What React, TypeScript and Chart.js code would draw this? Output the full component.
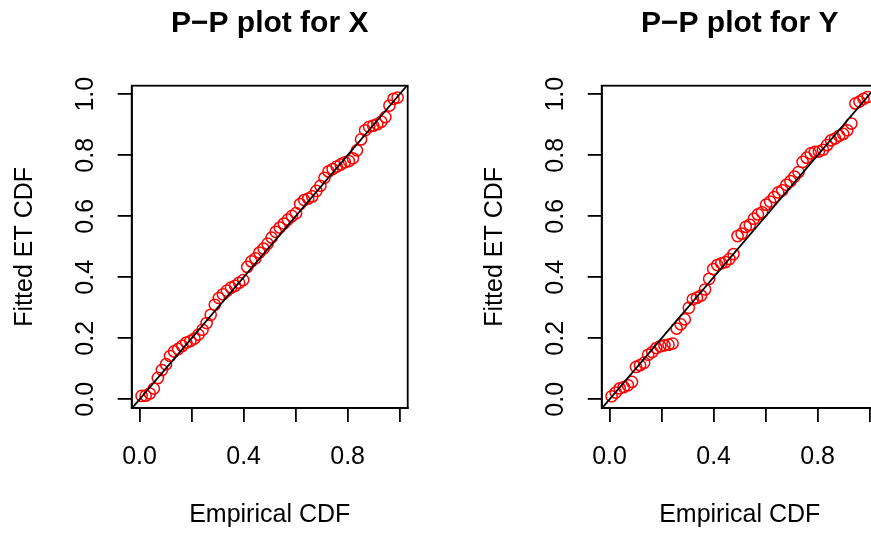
import { useEffect, useRef } from "react";
import { Chart, registerables } from "chart.js";

Chart.register(...registerables);

// Empirical CDF positions (x) shared by both panels
const EMPIRICAL_CDF = [
  0.0078, 0.0234, 0.0391, 0.0547, 0.0703, 0.0859, 0.1016, 0.1172, 0.1328, 0.1484,
  0.1641, 0.1797, 0.1953, 0.2109, 0.2266, 0.2422, 0.2578, 0.2734, 0.2891, 0.3047,
  0.3203, 0.3359, 0.3516, 0.3672, 0.3828, 0.3984, 0.4141, 0.4297, 0.4453, 0.4609,
  0.4766, 0.4922, 0.5078, 0.5234, 0.5391, 0.5547, 0.5703, 0.5859, 0.6016, 0.6172,
  0.6328, 0.6484, 0.6641, 0.6797, 0.6953, 0.7109, 0.7266, 0.7422, 0.7578, 0.7734,
  0.7891, 0.8047, 0.8203, 0.8359, 0.8516, 0.8672, 0.8828, 0.8984, 0.9141, 0.9297,
  0.9453, 0.9609, 0.9766, 0.9922,
];

// Fitted ET CDF for X
const FITTED_X = [
  0.011, 0.012, 0.019, 0.035, 0.070, 0.096, 0.115, 0.142, 0.157, 0.165,
  0.175, 0.186, 0.191, 0.199, 0.212, 0.228, 0.250, 0.277, 0.310, 0.332,
  0.344, 0.356, 0.366, 0.372, 0.382, 0.391, 0.434, 0.452, 0.462, 0.481,
  0.494, 0.510, 0.530, 0.549, 0.563, 0.576, 0.589, 0.601, 0.610, 0.640,
  0.653, 0.658, 0.665, 0.683, 0.700, 0.726, 0.747, 0.755, 0.763, 0.770,
  0.777, 0.781, 0.790, 0.816, 0.852, 0.882, 0.893, 0.897, 0.902, 0.910,
  0.925, 0.963, 0.985, 0.989,
];

// Fitted ET CDF for Y
const FITTED_Y = [
  0.010, 0.022, 0.036, 0.040, 0.046, 0.057, 0.106, 0.112, 0.120, 0.146,
  0.155, 0.168, 0.174, 0.177, 0.179, 0.183, 0.232, 0.246, 0.262, 0.300,
  0.328, 0.333, 0.340, 0.360, 0.395, 0.427, 0.440, 0.446, 0.450, 0.460,
  0.476, 0.535, 0.543, 0.565, 0.572, 0.592, 0.606, 0.613, 0.638, 0.648,
  0.663, 0.678, 0.685, 0.703, 0.715, 0.730, 0.745, 0.778, 0.792, 0.806,
  0.811, 0.812, 0.818, 0.833, 0.849, 0.855, 0.864, 0.870, 0.882, 0.904,
  0.970, 0.976, 0.985, 0.991,
];

const TICK_VALUES = [0, 0.2, 0.4, 0.6, 0.8, 1.0];
const X_TICK_LABELS = ["0.0", "", "0.4", "", "0.8", ""];
const Y_TICK_LABELS = ["0.0", "0.2", "0.4", "0.6", "0.8", "1.0"];
const REF_LINE = [-0.5, 1.5];

const X_LIMITS = [-0.0303, 1.031];
const Y_LIMITS = [-0.0285, 1.028];

const FONT = "'Liberation Sans', Arial, Helvetica, sans-serif";

const boxPlugin = {
  id: "rbox",
  afterDatasetsDraw(chart: any) {
    const { ctx, chartArea: a } = chart;
    ctx.save();
    ctx.strokeStyle = "#000";
    ctx.lineWidth = 1.8;
    ctx.strokeRect(a.left, a.top, a.right - a.left, a.bottom - a.top);
    ctx.restore();
  },
};

function makeConfig(title: string, fitted: number[]): any {
  const axisGrid = {
    display: true,
    drawOnChartArea: false,
    drawTicks: true,
    tickLength: 14,
    color: "#000",
    lineWidth: 1.8,
  };
  const border = { display: true, color: "#000", width: 1.8 };
  return {
    type: "scatter",
    data: {
      datasets: [
        {
          type: "line",
          data: REF_LINE.map((v) => ({ x: v, y: v })),
          borderColor: "#000",
          borderWidth: 1.8,
          pointRadius: 0,
          clip: 0,
          order: 0,
        },
        {
          type: "scatter",
          data: EMPIRICAL_CDF.map((x, i) => ({ x, y: fitted[i] })),
          borderColor: "#ff0000",
          backgroundColor: "rgba(0,0,0,0)",
          pointRadius: 5.6,
          pointBorderWidth: 1.5,
          borderWidth: 1.5,
          clip: 0,
          order: 1,
        },
      ],
    },
    options: {
      responsive: false,
      animation: false,
      devicePixelRatio: 1,
      layout: { padding: { left: 0, right: 62.3, top: 0, bottom: 0 } },
      plugins: {
        legend: { display: false },
        tooltip: { enabled: false },
        title: {
          display: true,
          text: title,
          color: "#000",
          fullSize: false,
          font: { family: FONT, size: 30, weight: "bold" },
          padding: { top: 5.5, bottom: 44.2 },
        },
      },
      scales: {
        x: {
          type: "linear",
          position: "bottom",
          min: X_LIMITS[0],
          max: X_LIMITS[1],
          afterBuildTicks: (s: any) => {
            s.ticks = TICK_VALUES.map((v) => ({ value: v }));
          },
          afterFit: (s: any) => {
            s.height = 127;
          },
          grid: axisGrid,
          border,
          ticks: {
            autoSkip: false,
            minRotation: 0,
            maxRotation: 0,
            padding: 20,
            color: "#000",
            font: { family: FONT, size: 25 },
            callback: (_v: any, i: number) => X_TICK_LABELS[i],
          },
          title: {
            display: true,
            text: "Empirical CDF",
            color: "#000",
            font: { family: FONT, size: 25 },
            padding: { top: 0, bottom: 5 },
          },
        },
        y: {
          type: "linear",
          position: "left",
          min: Y_LIMITS[0],
          max: Y_LIMITS[1],
          afterBuildTicks: (s: any) => {
            s.ticks = TICK_VALUES.map((v) => ({ value: v }));
          },
          afterFit: (s: any) => {
            s.width = 131.7;
          },
          grid: axisGrid,
          border,
          ticks: {
            autoSkip: false,
            minRotation: 90,
            maxRotation: 90,
            crossAlign: "center",
            padding: 14,
            color: "#000",
            font: { family: FONT, size: 25 },
            callback: (_v: any, i: number) => Y_TICK_LABELS[i],
          },
          title: {
            display: true,
            text: "Fitted ET CDF",
            color: "#000",
            font: { family: FONT, size: 25 },
            padding: { top: 10, bottom: 0 },
          },
        },
      },
    },
    plugins: [boxPlugin],
  };
}

function Panel({ title, fitted, left }: { title: string; fitted: number[]; left: number }) {
  const ref = useRef<HTMLCanvasElement | null>(null);
  useEffect(() => {
    if (!ref.current) return;
    const chart = new Chart(ref.current, makeConfig(title, fitted));
    return () => chart.destroy();
  }, [title, fitted]);
  return (
    <div style={{ position: "absolute", left, top: 0, width: 470, height: 535 }}>
      <canvas ref={ref} width={470} height={535} style={{ width: 470, height: 535, display: "block" }} />
    </div>
  );
}

export default function App() {
  return (
    <div
      style={{
        position: "fixed",
        left: 0,
        top: 0,
        width: 871,
        height: 535,
        overflow: "hidden",
        background: "#fff",
      }}
    >
      <Panel title={"P\u2212P plot for X"} fitted={FITTED_X} left={0} />
      <Panel title={"P\u2212P plot for Y"} fitted={FITTED_Y} left={470} />
    </div>
  );
}
